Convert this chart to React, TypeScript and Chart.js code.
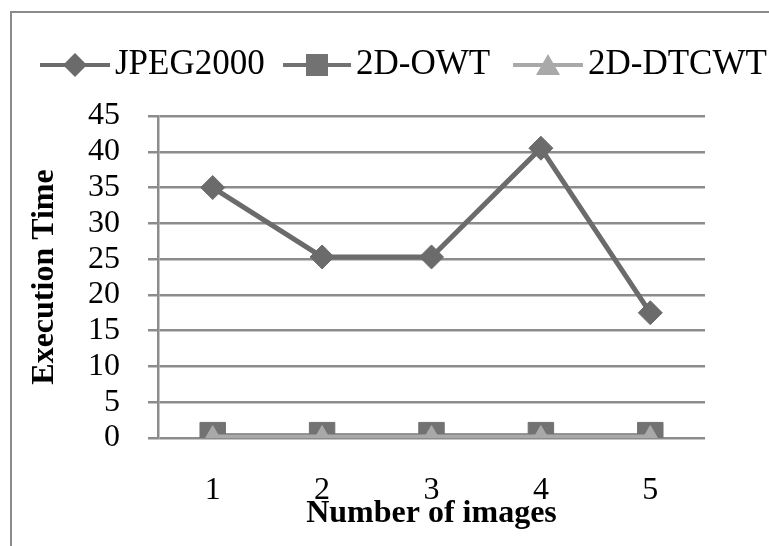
import React, { useEffect, useRef } from "react";
import { Chart, registerables } from "chart.js";

Chart.register(...registerables);

const categories = ["1", "2", "3", "4", "5"];
const jpeg2000 = [35, 25.3, 25.3, 40.5, 17.5];
const owt2d = [0.4, 0.4, 0.4, 0.4, 0.4];
const dtcwt2d = [0.2, 0.2, 0.2, 0.2, 0.2];
const seriesNames = ["JPEG2000", "2D-OWT", "2D-DTCWT"];
const yTickMin = 0;
const yTickMax = 45;
const yTickStep = 5;

const C_JPEG = "#6b6b6b";
const C_OWT = "#727272";
const C_DTC = "#a9a9a9";
const FONT = '"Liberation Serif", "Times New Roman", serif';

const frameAndLegend = {
  id: "frameAndLegend",
  beforeDraw(chart: any) {
    const ctx = chart.ctx;
    ctx.save();
    ctx.fillStyle = "#ffffff";
    ctx.fillRect(0, 0, chart.width, chart.height);
    ctx.strokeStyle = "#8a8a8a";
    ctx.lineWidth = 2;
    ctx.strokeRect(11, 12, 900, 700);
    ctx.restore();
  },
  afterDraw(chart: any) {
    const ctx = chart.ctx;
    const y = 65;
    const items = [
      { x: 40, len: 70, color: C_JPEG, shape: "diamond", text: seriesNames[0] },
      { x: 283, len: 68, color: C_OWT, shape: "square", text: seriesNames[1] },
      { x: 513, len: 70, color: C_DTC, shape: "triangle", text: seriesNames[2] },
    ];
    ctx.save();
    for (const it of items) {
      ctx.strokeStyle = it.color;
      ctx.lineWidth = 4;
      ctx.beginPath();
      ctx.moveTo(it.x, y);
      ctx.lineTo(it.x + it.len, y);
      ctx.stroke();
      const cx = it.x + it.len / 2;
      ctx.fillStyle = it.color;
      ctx.beginPath();
      if (it.shape === "diamond") {
        ctx.moveTo(cx - 12, y);
        ctx.lineTo(cx, y - 12);
        ctx.lineTo(cx + 12, y);
        ctx.lineTo(cx, y + 12);
      } else if (it.shape === "square") {
        ctx.rect(cx - 11, y - 11, 22, 22);
      } else {
        ctx.moveTo(cx - 12, y + 10);
        ctx.lineTo(cx, y - 11);
        ctx.lineTo(cx + 12, y + 10);
      }
      ctx.closePath();
      ctx.fill();
      ctx.fillStyle = "#000000";
      ctx.font = "35px " + FONT;
      ctx.textBaseline = "middle";
      ctx.textAlign = "left";
      ctx.fillText(it.text, it.x + it.len + 5, y);
    }
    ctx.restore();
  },
};

export default function App() {
  const ref = useRef<HTMLCanvasElement | null>(null);
  useEffect(() => {
    if (!ref.current) return;
    const chart = new Chart(ref.current, {
      type: "line",
      data: {
        labels: categories,
        datasets: [
          {
            label: seriesNames[0],
            data: jpeg2000,
            borderColor: C_JPEG,
            backgroundColor: C_JPEG,
            borderWidth: 5,
            pointStyle: "rectRot",
            pointRadius: 12,
            pointBorderWidth: 1,
            order: 2,
          },
          {
            label: seriesNames[1],
            data: owt2d,
            borderColor: C_OWT,
            backgroundColor: C_OWT,
            borderWidth: 4,
            pointStyle: "rect",
            pointRadius: 18,
            pointBorderWidth: 1,
            order: 1,
          },
          {
            label: seriesNames[2],
            data: dtcwt2d,
            borderColor: C_DTC,
            backgroundColor: C_DTC,
            borderWidth: 4,
            pointStyle: "triangle",
            pointRadius: 11,
            pointBorderWidth: 1,
            order: 0,
          },
        ],
      },
      options: {
        animation: false,
        responsive: false,
        maintainAspectRatio: false,
        layout: { padding: { top: 116, right: 64, left: 0, bottom: 0 } },
        plugins: { legend: { display: false }, tooltip: { enabled: false } },
        scales: {
          x: {
            type: "category",
            offset: true,
            grid: { display: false, drawTicks: false },
            border: { display: false },
            ticks: { color: "#000", font: { family: FONT, size: 32 }, padding: 33 },
            title: {
              display: true,
              text: "Number of images",
              color: "#000",
              font: { family: FONT, size: 32, weight: "bold" },
              padding: { top: 0, bottom: 13 },
            },
            afterFit: (s: any) => {
              s.height = 108;
            },
          },
          y: {
            min: yTickMin,
            max: yTickMax,
            ticks: {
              stepSize: yTickStep,
              autoSkip: false,
              color: "#000",
              font: { family: FONT, size: 32 },
              padding: 28,
            },
            grid: { color: "#8c8c8c", lineWidth: 2.5, tickLength: 10 },
            border: { display: true, color: "#8c8c8c", width: 2.5 },
            title: {
              display: true,
              text: "Execution Time",
              color: "#000",
              font: { family: FONT, size: 32, weight: "bold" },
              padding: { top: 26, bottom: 0 },
            },
            afterFit: (s: any) => {
              s.width = 158;
            },
          },
        },
      },
      plugins: [frameAndLegend],
    });
    return () => chart.destroy();
  }, []);
  return (
    <div style={{ position: "fixed", left: 0, top: 0, width: 769, height: 546, background: "#fff" }}>
      <canvas ref={ref} width={769} height={546} style={{ width: 769, height: 546, display: "block" }} />
    </div>
  );
}
